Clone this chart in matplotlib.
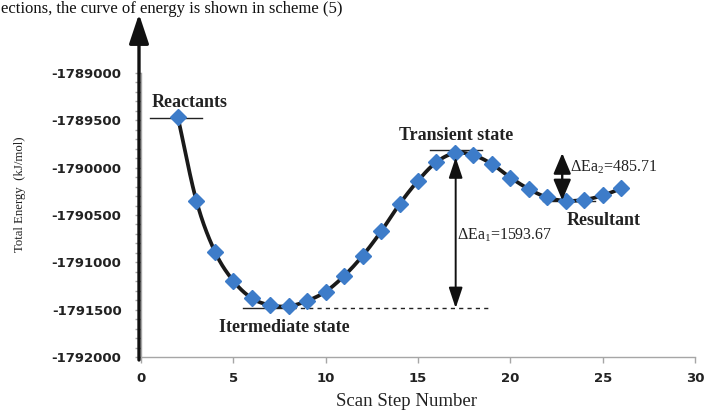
import numpy as np
import matplotlib
matplotlib.use("Agg")
import matplotlib.pyplot as plt
from matplotlib.patches import FancyArrowPatch
from matplotlib.ticker import MultipleLocator, FuncFormatter

# ---- data ----
steps = [2, 3, 4, 5, 6, 7, 8, 9, 10, 11, 12, 13, 14, 15, 16, 17, 18, 19, 20, 21, 22, 23, 24, 25, 26]
energy = [-1789470, -1790350, -1790886, -1791196, -1791379, -1791453, -1791463, -1791407,
          -1791309, -1791143, -1790931, -1790674, -1790385, -1790138, -1789941, -1789846,
          -1789867, -1789962, -1790104, -1790226, -1790315, -1790350, -1790339, -1790294,
          -1790220]
x_ticks = [0, 5, 10, 15, 20, 25, 30]
y_ticks = [-1792000, -1791500, -1791000, -1790500, -1790000, -1789500, -1789000]
dEa1_label = "ΔEa$_1$=1593.67"
dEa2_label = "ΔEa$_2$=485.71"

SERIF = "Liberation Serif"
plt.rcParams["mathtext.fontset"] = "custom"
plt.rcParams["mathtext.rm"] = SERIF
plt.rcParams["mathtext.it"] = SERIF + ":italic"
plt.rcParams["mathtext.bf"] = SERIF + ":bold"
plt.rcParams["mathtext.default"] = "rm"


def smooth(xs, ys, n=20):
    """Catmull-Rom curve through the points (like a spreadsheet smoothed line)."""
    p = np.column_stack([xs, ys]).astype(float)
    p = np.vstack([p[0] - (p[1] - p[0]), p, p[-1] + (p[-1] - p[-2])])
    out = []
    t = np.linspace(0, 1, n, endpoint=False)[:, None]
    for i in range(1, len(p) - 2):
        p0, p1, p2, p3 = p[i - 1], p[i], p[i + 1], p[i + 2]
        seg = 0.5 * ((2 * p1) + (-p0 + p2) * t + (2 * p0 - 5 * p1 + 4 * p2 - p3) * t ** 2
                     + (-p0 + 3 * p1 - 3 * p2 + p3) * t ** 3)
        out.append(seg)
    out.append(p[-2][None, :])
    out = np.vstack(out)
    return out[:, 0], out[:, 1]


W, H = 704, 412
fig = plt.figure(figsize=(W / 100, H / 100), dpi=100)
ax = fig.add_axes([141 / W, 55 / H, (695 - 141) / W, (357 - 73) / H])

sx, sy = smooth(steps, energy)
ax.plot(sx, sy, color="#1a1a1a", lw=2.7, zorder=3, solid_capstyle="round")
ax.plot(steps, energy, linestyle="none", marker="D", markersize=7.8,
        markerfacecolor="#3d7cc9", markeredgecolor="#3d7cc9", zorder=4)

ax.set_xlim(0, 30)
ax.set_ylim(-1792000, -1789000)
ax.set_xticks(x_ticks)
ax.set_yticks(y_ticks)
ax.yaxis.set_minor_locator(MultipleLocator(100))
ax.yaxis.set_major_formatter(FuncFormatter(lambda v, p: "%d" % v))
ax.xaxis.set_major_formatter(FuncFormatter(lambda v, p: "%d" % v))

for s in ["top", "right"]:
    ax.spines[s].set_visible(False)
for s in ["left", "bottom"]:
    ax.spines[s].set_color("#a6a6a6")
    ax.spines[s].set_linewidth(1.0)
ax.tick_params(axis="both", which="both", color="#a6a6a6", direction="out", width=1.0)
ax.tick_params(axis="y", which="both", length=4, pad=10)
ax.tick_params(axis="x", which="major", length=4, pad=7)
ax.tick_params(axis="both", labelsize=9.5, labelcolor="#222222")
for lab in ax.get_xticklabels() + ax.get_yticklabels():
    lab.set_fontweight("bold")
    lab.set_family("DejaVu Sans")

# thick black y axis with arrow
fig.add_artist(FancyArrowPatch((139 / W, (H - 360) / H), (139 / W, (H - 14) / H),
                               transform=fig.transFigure, arrowstyle="-|>,head_length=0.9,head_width=0.3",
                               mutation_scale=20, color="#111111", lw=2.4, shrinkA=0, shrinkB=0))

# level lines
ax.plot([0.49, 3.29], [-1789476, -1789476], color="#222222", lw=1.0, zorder=2)
ax.plot([15.65, 18.44], [-1789818, -1789818], color="#222222", lw=1.0, zorder=2)
ax.plot([21.75, 24.58], [-1790357, -1790357], color="#222222", lw=1.0, zorder=2)
ax.plot([5.54, 8.2], [-1791484, -1791484], color="#222222", lw=1.0, zorder=2)
ax.plot([8.2, 18.9], [-1791484, -1791484], color="#222222", lw=1.0, ls=(0, (3, 3)), zorder=2)

# energy gap arrows
ax.add_patch(FancyArrowPatch((17.04, -1789890), (17.04, -1791484),
                             arrowstyle="<|-|>,head_length=0.9,head_width=0.3", mutation_scale=14,
                             color="#111111", lw=1.4, shrinkA=0, shrinkB=0, zorder=5))
ax.add_patch(FancyArrowPatch((22.81, -1789846), (22.81, -1790345),
                             arrowstyle="<|-|>,head_length=0.9,head_width=0.38", mutation_scale=14,
                             color="#111111", lw=1.7, shrinkA=0, shrinkB=0, zorder=5))

# labels
bold = dict(family=SERIF, fontweight="bold", fontsize=13, color="#222222",
            ha="center", va="center")
ax.text(2.63, -1789314, "Reactants", **bold)
ax.text(17.05, -1789663, "Transient state", **bold)
ax.text(25.07, -1790561, "Resultant", **bold)
ax.text(7.74, -1791687, "Itermediate state", **bold)
ax.text(23.25, -1790001, dEa2_label, family=SERIF, fontsize=11.5, color="#222222",
        ha="left", va="center")
ax.text(17.1, -1790712, dEa1_label, family=SERIF, fontsize=11.5, color="#222222",
        ha="left", va="center")

fig.text(20 / W, (H - 194) / H, "Total Energy  (kJ/mol)", family=SERIF, fontsize=9.2,
         rotation=90, ha="center", va="center", color="#222222")
fig.text(406 / W, (H - 402) / H, "Scan Step Number", family=SERIF, fontsize=13.5,
         ha="center", va="center", color="#222222")

# line of page text at the top
fig.text(1 / W, (H - 1) / H, "ections, the curve of energy is shown in scheme (5)",
         family=SERIF, fontsize=12, ha="left", va="top", color="#111111")

fig.savefig("out.png", dpi=100)
